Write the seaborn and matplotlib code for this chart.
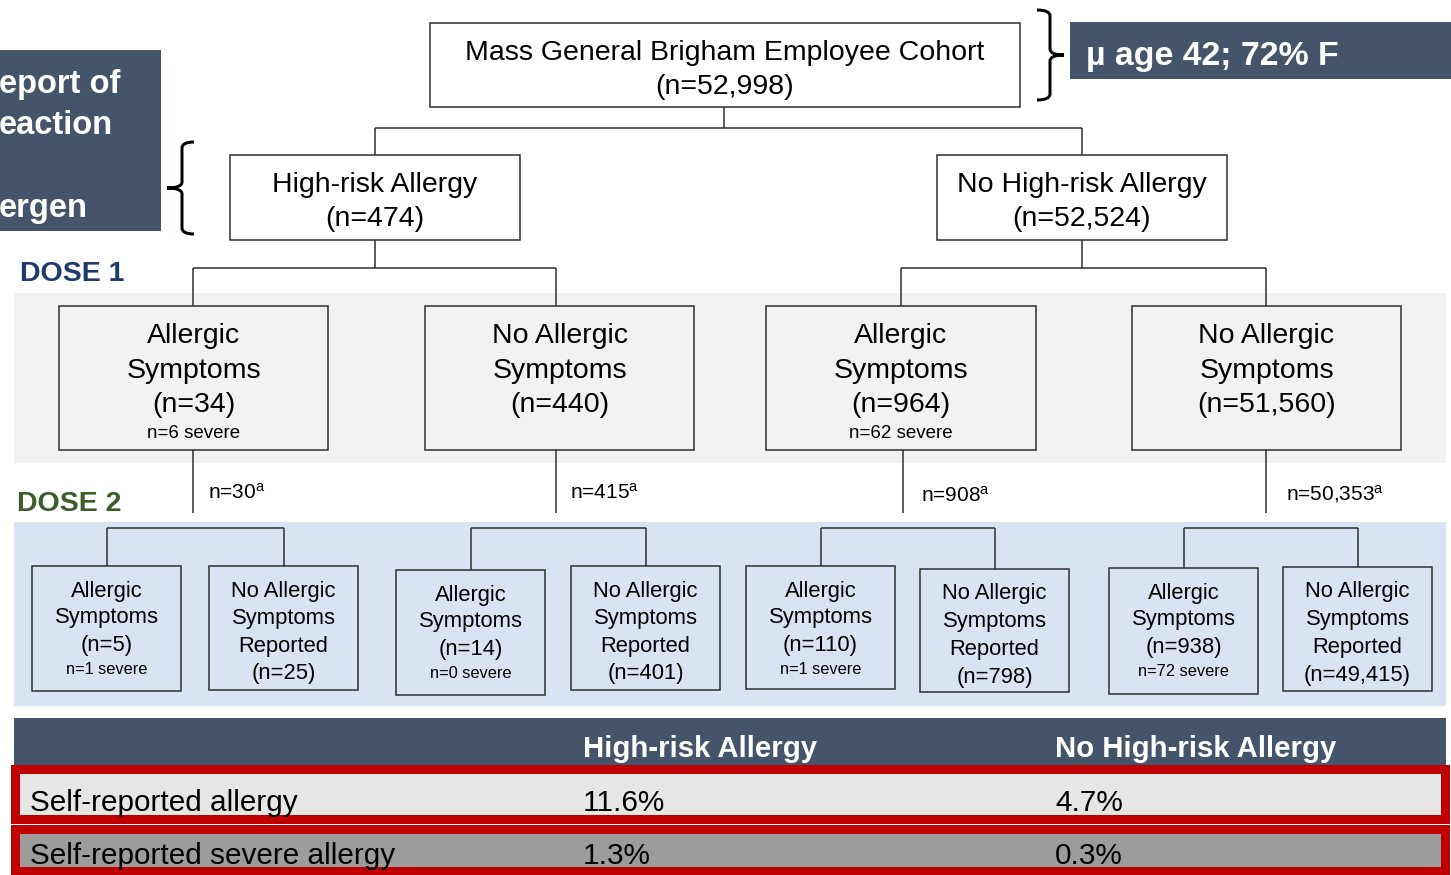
import matplotlib
matplotlib.use("Agg")
import matplotlib.pyplot as plt
from matplotlib.patches import Rectangle, PathPatch
from matplotlib.path import Path
import seaborn as sns

# ---------------- data ----------------
cohort_label = "Mass General Brigham Employee Cohort"
cohort_n = 52998
cohort_summary = "\u00b5 age 42; 72% F"
side_label_lines = ["eport of", "eaction", "", "ergen"]
risk_groups = ["High-risk Allergy", "No High-risk Allergy"]
risk_n = [474, 52524]
dose_labels = ["DOSE 1", "DOSE 2"]
dose1_labels = [["Allergic", "Symptoms"], ["No Allergic", "Symptoms"],
                ["Allergic", "Symptoms"], ["No Allergic", "Symptoms"]]
dose1_n = [34, 440, 964, 51560]
dose1_severe = [6, None, 62, None]
dose2_received = [30, 415, 908, 50353]
dose2_allergic_labels = ["Allergic", "Symptoms"]
dose2_none_labels = ["No Allergic", "Symptoms", "Reported"]
dose2_allergic_n = [5, 14, 110, 938]
dose2_allergic_severe = [1, 0, 1, 72]
dose2_none_n = [25, 401, 798, 49415]
table_columns = ["High-risk Allergy", "No High-risk Allergy"]
table_rows = ["Self-reported allergy", "Self-reported severe allergy"]
pct_high_risk = [11.6, 1.3]
pct_no_high_risk = [4.7, 0.3]

# ---------------- style ----------------
sns.set_theme(style="white")
plt.rcParams["font.family"] = ["Liberation Sans", "DejaVu Sans"]
plt.rcParams["mathtext.fontset"] = "custom"
plt.rcParams["mathtext.rm"] = "Liberation Sans"
plt.rcParams["mathtext.it"] = "Liberation Sans"

SLATE = "#44546A"
NAVY = "#1F3A6E"
GREEN = "#3B5E2B"
GRAYBAND = "#F2F2F2"
BLUEBAND = "#DAE3F3"
RED = "#C00000"
ROW1 = "#E6E6E6"
ROW2 = "#9C9C9C"
EDGE = "#2B2B2B"

W, H = 1451, 875
fig = plt.figure(figsize=(W / 100, H / 100), dpi=100)
ax = fig.add_axes([0, 0, 1, 1])
ax.set_xlim(0, W)
ax.set_ylim(H, 0)
ax.axis("off")

PX = 0.72  # points per pixel
DY = 3     # text vertical nudge (pixels)


def rect(x0, y0, x1, y1, fc, ec="none", lw=1.5, z=1):
    ax.add_patch(Rectangle((x0, y0), x1 - x0, y1 - y0, facecolor=fc,
                           edgecolor=ec, linewidth=lw * PX, zorder=z))


def line(xs, ys, lw=1.5, color=EDGE):
    ax.plot(xs, ys, color=color, lw=lw * PX, solid_capstyle="butt", zorder=2)


def txt(x, y, s, size, ha="center", color="black", weight="normal", z=5):
    ax.text(x, y + DY, s, fontsize=size, ha=ha, va="center", color=color,
            fontweight=weight, zorder=z)


def brace(xb, xm, tip, y0, y1, lw=3):
    ym = (y0 + y1) / 2
    r = 6
    verts = [(xb, y0), (xm, y0), (xm, y0 + r),
             (xm, ym - r), (xm, ym), (tip, ym),
             (xm, ym), (xm, ym + r),
             (xm, y1 - r), (xm, y1), (xb, y1)]
    codes = [Path.MOVETO, Path.CURVE3, Path.CURVE3,
             Path.LINETO, Path.CURVE3, Path.CURVE3,
             Path.CURVE3, Path.CURVE3,
             Path.LINETO, Path.CURVE3, Path.CURVE3]
    ax.add_patch(PathPatch(Path(verts, codes), facecolor="none",
                           edgecolor="black", lw=lw * PX, zorder=3))


# ---------------- top section ----------------
rect(430, 23, 1020, 107, "white", EDGE)
txt(725, 50, cohort_label, 20.5)
txt(725, 84, f"(n={cohort_n:,})", 20.5)

brace(1037, 1050, 1064, 10, 100)
rect(1070, 22, 1451, 79, SLATE)
txt(1086, 53, cohort_summary, 24.4, ha="left", color="white", weight="bold")

rect(0, 50, 161, 231, SLATE)
for i, s in enumerate(side_label_lines):
    txt(-1, 82 + i * 41, s, 23.5, ha="left", color="white", weight="bold")
brace(194, 182, 167, 142, 234)

# connectors to risk groups
risk_cx = [375, 1082]
line([724, 724], [107, 128])
line([risk_cx[0], risk_cx[1]], [128, 128])
for cx in risk_cx:
    line([cx, cx], [128, 155])

risk_boxes = [(230, 520), (937, 1227)]
for (x0, x1), name, n in zip(risk_boxes, risk_groups, risk_n):
    rect(x0, 155, x1, 240, "white", EDGE)
    cx = (x0 + x1) / 2
    txt(cx, 182, name, 20.5)
    txt(cx, 216, f"(n={n:,})", 20.5)

# ---------------- dose 1 ----------------
rect(14, 293, 1446, 463, GRAYBAND, z=0)
txt(20, 271, dose_labels[0], 20.5, ha="left", color=NAVY, weight="bold")

d1_boxes = [(59, 328), (425, 694), (766, 1036), (1132, 1401)]
d1_cx = [193, 556, 901, 1266]
for g, pcx in enumerate(risk_cx):
    a, b = d1_cx[2 * g], d1_cx[2 * g + 1]
    line([pcx, pcx], [240, 268])
    line([a, b], [268, 268])
    line([a, a], [268, 306])
    line([b, b], [268, 306])

for (x0, x1), lab, n, sev in zip(d1_boxes, dose1_labels, dose1_n, dose1_severe):
    rect(x0, 306, x1, 450, GRAYBAND, EDGE)
    cx = (x0 + x1) / 2
    txt(cx, 333, lab[0], 20.5)
    txt(cx, 368, lab[1], 20.5)
    txt(cx, 402, f"(n={n:,})", 20.5)
    if sev is not None:
        txt(cx, 431, f"n={sev} severe", 13.5)

# ---------------- dose 2 ----------------
rect(14, 522, 1446, 706, BLUEBAND, z=0)
txt(17, 501, dose_labels[1], 20.5, ha="left", color=GREEN, weight="bold")

down_x = [193, 556, 903, 1266]
label_x = [208, 570, 921, 1286]
label_y = [490, 490, 493, 491]
for x, lx, ly, n in zip(down_x, label_x, label_y, dose2_received):
    line([x, x], [450, 513])
    ax.text(lx, ly + DY, f"n={n:,}" + r"$^{\mathrm{a}}$", fontsize=15, ha="left",
            va="center", color="black", zorder=5)

d2_allergic_boxes = [(32, 181, 566, 691), (396, 545, 570, 695),
                     (746, 895, 566, 689), (1109, 1258, 568, 694)]
d2_none_boxes = [(209, 358, 566, 690), (571, 720, 566, 690),
                 (920, 1069, 569, 692), (1283, 1432, 567, 691)]
for g in range(4):
    ax0, ax1, ay0, ay1 = d2_allergic_boxes[g]
    bx0, bx1, by0, by1 = d2_none_boxes[g]
    acx, bcx = (ax0 + ax1) / 2, (bx0 + bx1) / 2
    line([acx, bcx], [528, 528])
    line([acx, acx], [528, ay0])
    line([bcx, bcx], [528, by0])

    rect(ax0, ay0, ax1, ay1, BLUEBAND, EDGE)
    off = ay0 - 566
    txt(acx, 588 + off, dose2_allergic_labels[0], 15.8)
    txt(acx, 615 + off, dose2_allergic_labels[1], 15.8)
    txt(acx, 643 + off, f"(n={dose2_allergic_n[g]:,})", 15.8)
    txt(acx, 666 + off, f"n={dose2_allergic_severe[g]} severe", 11.8)

    rect(bx0, by0, bx1, by1, BLUEBAND, EDGE)
    off = by0 - 566
    for k, s in enumerate(dose2_none_labels):
        txt(bcx, 588 + off + k * 27.7, s, 15.8)
    txt(bcx, 671 + off, f"(n={dose2_none_n[g]:,})", 15.8)

# ---------------- summary table ----------------
col_x = [583, 1055]
rect(14, 718, 1446, 770, SLATE)
for x, c in zip(col_x, table_columns):
    txt(x, 746, c, 21.2, ha="left", color="white", weight="bold")

row_boxes = [(769, 818.5, ROW1, 800), (828.5, 871, ROW2, 853)]
for (y0, y1, fc, yc), name, p1, p2 in zip(row_boxes, table_rows, pct_high_risk, pct_no_high_risk):
    rect(15, y0, 1444.5, y1, fc, RED, lw=9, z=1)
    txt(30, yc, name, 21.4, ha="left")
    txt(col_x[0], yc, f"{p1}%", 21.4, ha="left")
    txt(col_x[1], yc, f"{p2}%", 21.4, ha="left")

fig.savefig("out.png", dpi=100)
